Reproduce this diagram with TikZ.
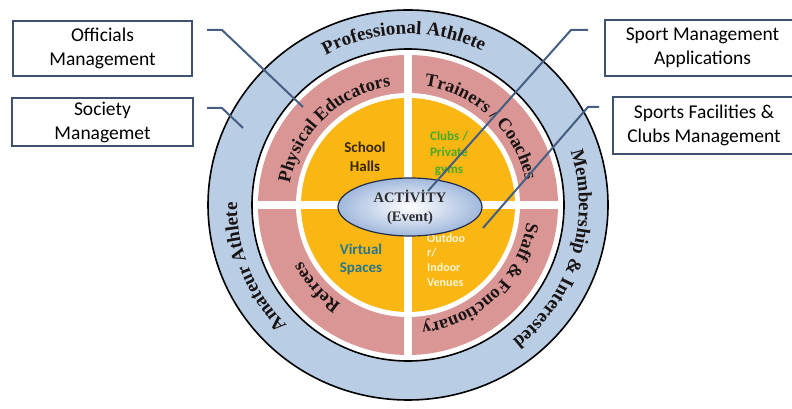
\documentclass[tikz,border=0pt]{standalone}
\usepackage{fontspec}
\setmainfont{Liberation Serif}
\newfontfamily\carlito{Carlito}
\usetikzlibrary{decorations.text,shapes.geometric}
\definecolor{ringblue}{RGB}{185,205,228}
\definecolor{ringpink}{RGB}{217,150,148}
\definecolor{coreorange}{RGB}{250,182,18}
\definecolor{slate}{RGB}{62,82,112}
\definecolor{connblue}{RGB}{68,95,130}
\definecolor{halltext}{RGB}{55,38,10}
\definecolor{clubgreen}{RGB}{70,170,40}
\definecolor{virtteal}{RGB}{40,118,138}
\definecolor{venuecream}{RGB}{255,246,210}
\definecolor{evtedge}{RGB}{35,45,75}
\definecolor{evtfill}{RGB}{160,184,220}
\definecolor{ringink}{RGB}{25,20,20}
\newcommand\bluefont{\color{ringink}\bfseries\fontsize{19}{20}\selectfont}
\newcommand\pinkfont{\color{ringink}\bfseries\fontsize{18.3}{20}\selectfont}
% radius, centre angle, half span, font, text
\newcommand\ringlabel[5]{%
  \path[shift={(C)}, decorate, decoration={text along path, text={|#4|#5}, text align=center}]
    (#2+#3:#1) arc[start angle=#2+#3, end angle=#2-#3, radius=#1];}
\begin{document}
\begin{tikzpicture}[x=1pt,y=1pt,
  callout/.style={draw=slate, line width=2.5pt, fill=white, align=center,
    font=\carlito\fontsize{19.5}{24}\selectfont, inner sep=0pt},
  conn/.style={draw=connblue, line width=2pt},
  quadtext/.style 2 args={font=\carlito\bfseries\fontsize{#1}{#2}\selectfont, inner sep=0pt},
  crossgap/.style={draw=white, line width=8pt}]
\useasboundingbox (0,0) rectangle (792,409);
\fill[white] (0,0) rectangle (792,409);
\coordinate (C) at (408,204);

% rings
\filldraw[fill=ringblue, draw=black, line width=1.6pt] (C) ellipse [x radius=200, y radius=195];
\filldraw[fill=white, draw=black, line width=1.6pt] (C) circle [radius=156];
\fill[ringpink] (C) circle [radius=150];
\fill[white] (C) circle [radius=112];
\fill[coreorange] (C) circle [radius=107];
\draw[crossgap] ([xshift=-151pt]C) -- ([xshift=151pt]C);
\draw[crossgap] ([yshift=-151pt]C) -- ([yshift=151pt]C);

% ring texts
\ringlabel{171}{91.5}{60}{\bluefont}{Professional Athlete}
\ringlabel{171}{-17}{60}{\bluefont}{Membership {\&} Interested}
\ringlabel{171}{202}{60}{\bluefont}{Amateur Athlete}
\ringlabel{120}{134}{60}{\pinkfont}{Physical Educators}
\ringlabel{120}{47}{60}{\pinkfont}{Trainers / Coaches}
\ringlabel{120}{-46}{60}{\pinkfont}{Staff {\&} Fonctionary}
\ringlabel{120}{222}{60}{\pinkfont}{Refrees}

% quadrant texts
\node[quadtext={15}{19}, text=halltext, align=center] (halls) at (365,252.5) {School\\Halls};
\node[quadtext={13}{16.5}, text=clubgreen, align=center] (clubs) at (449,255.5) {Clubs /\\Private\\gyms};
\node[quadtext={15}{18}, text=virtteal, align=center] (virtual) at (361,150) {Virtual\\Spaces};
\node[quadtext={12}{14.7}, text=venuecream, align=left, anchor=west] (venues) at (427,149) {Outdoo\\r/\\Indoor\\Venues};

% centre
\node[ellipse, draw=evtedge, line width=1.2pt, inner color=white, outer color=evtfill,
  minimum width=144pt, minimum height=58pt, inner sep=0pt, align=center,
  font=\bfseries\fontsize{14.5}{19}\selectfont, text={rgb,255:red,45;green,45;blue,50}]
  (evt) at (410,202) {ACTİVİTY\\(Event)};

% callout boxes
\node[callout, minimum width=179pt, minimum height=55pt] (offm) at (102.5,360.5) {Officials\\Management};
\node[callout, minimum width=181pt, minimum height=48pt] (socm) at (102.5,287) {Society\\Managemet};
\node[callout, minimum width=195pt, minimum height=56pt] (sapp) at (702.5,361) {Sport Management\\Applications};
\node[callout, minimum width=182pt, minimum height=57pt] (sfac) at (704,283.5) {Sports Facilities \&\\Clubs Management};

% connectors
\coordinate (a1) at (207,379); \coordinate (a2) at (222,379); \coordinate (a3) at (303,302);
\coordinate (b1) at (207,301); \coordinate (b2) at (222,301); \coordinate (b3) at (243,281);
\coordinate (c1) at (588,379); \coordinate (c2) at (571,379); \coordinate (c3) at (428,218);
\coordinate (d1) at (599,302); \coordinate (d2) at (588,302); \coordinate (d3) at (483,181);
\draw[conn] (a1) -- (a2) -- (a3);
\draw[conn] (b1) -- (b2) -- (b3);
\draw[conn] (c1) -- (c2) -- (c3);
\draw[conn] (d1) -- (d2) -- (d3);
\end{tikzpicture}
\end{document}
